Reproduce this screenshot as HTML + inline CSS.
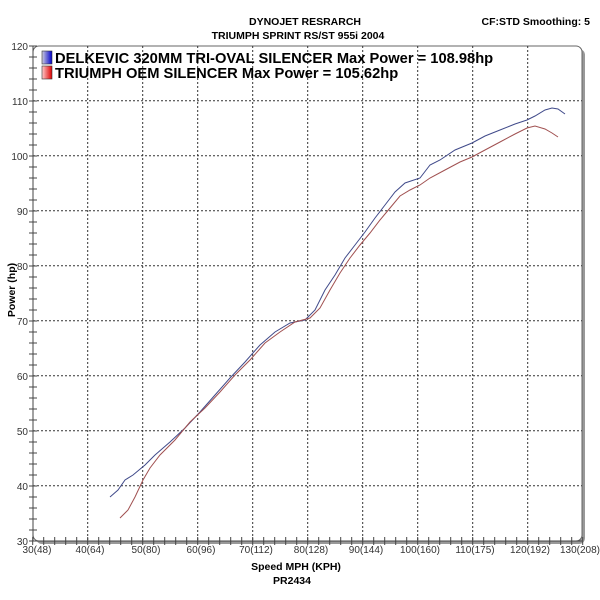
<!DOCTYPE html>
<html><head><style>
body{margin:0;background:#fff;width:600px;height:600px;overflow:hidden}
svg{display:block}
text{font-family:"Liberation Sans",Arial,sans-serif}
</style></head><body>
<svg width="600" height="600" viewBox="0 0 600 600">
<text x="305" y="25" font-size="10.5" font-weight="bold" text-anchor="middle">DYNOJET RESRARCH</text>
<text x="298" y="39" font-size="10.5" font-weight="bold" text-anchor="middle">TRIUMPH SPRINT RS/ST 955i 2004</text>
<text x="590" y="25" font-size="10.5" font-weight="bold" text-anchor="end">CF:STD Smoothing: 5</text>
<rect x="36" y="49" width="549" height="495" rx="6" fill="#999"/>
<rect x="33" y="46" width="549" height="495" rx="6" fill="#fff" stroke="#666" stroke-width="1"/>
<g stroke="#333" stroke-width="1" stroke-dasharray="2,2">
<line x1="33" y1="100.7" x2="582" y2="100.7"/><line x1="33" y1="155.7" x2="582" y2="155.7"/>
<line x1="33" y1="210.7" x2="582" y2="210.7"/><line x1="33" y1="265.7" x2="582" y2="265.7"/>
<line x1="33" y1="320.7" x2="582" y2="320.7"/><line x1="33" y1="375.7" x2="582" y2="375.7"/>
<line x1="33" y1="430.7" x2="582" y2="430.7"/><line x1="33" y1="485.7" x2="582" y2="485.7"/>
<line x1="87.7" y1="46" x2="87.7" y2="541"/><line x1="142.7" y1="46" x2="142.7" y2="541"/>
<line x1="197.7" y1="46" x2="197.7" y2="541"/><line x1="252.7" y1="46" x2="252.7" y2="541"/>
<line x1="307.7" y1="46" x2="307.7" y2="541"/><line x1="362.7" y1="46" x2="362.7" y2="541"/>
<line x1="417.7" y1="46" x2="417.7" y2="541"/><line x1="472.7" y1="46" x2="472.7" y2="541"/>
<line x1="527.7" y1="46" x2="527.7" y2="541"/>
</g>
<g stroke="#444" stroke-width="1">
<line x1="33" y1="46" x2="33" y2="541"/><line x1="33" y1="541" x2="582" y2="541"/>
</g>
<g id="ticks" stroke="#444"></g>
<g font-size="10" fill="#333" text-anchor="end">
<text x="28" y="50">120</text><text x="28" y="105">110</text><text x="28" y="160">100</text>
<text x="28" y="215">90</text><text x="28" y="270">80</text><text x="28" y="325">70</text>
<text x="28" y="380">60</text><text x="28" y="435">50</text><text x="28" y="490">40</text><text x="28" y="545">30</text>
</g>
<g font-size="10" fill="#333" text-anchor="middle">
<text x="37" y="553">30(48)</text><text x="90" y="553">40(64)</text><text x="146" y="553">50(80)</text>
<text x="201" y="553">60(96)</text><text x="256" y="553">70(112)</text><text x="311" y="553">80(128)</text>
<text x="366" y="553">90(144)</text><text x="420" y="553">100(160)</text><text x="475" y="553">110(175)</text>
<text x="530" y="553">120(192)</text><text x="580" y="553">130(208)</text>
</g>
<text x="296" y="570" font-size="10.5" font-weight="bold" text-anchor="middle">Speed MPH (KPH)</text>
<text x="292" y="584" font-size="10.5" font-weight="bold" text-anchor="middle">PR2434</text>
<text x="15" y="290" font-size="10.5" font-weight="bold" text-anchor="middle" transform="rotate(-90 15 290)">Power (hp)</text>
<defs>
<linearGradient id="gb" x1="0" x2="1"><stop offset="0" stop-color="#ccd"/><stop offset="1" stop-color="#00c"/></linearGradient>
<linearGradient id="gr" x1="0" x2="1"><stop offset="0" stop-color="#fcc"/><stop offset="1" stop-color="#d00"/></linearGradient>
</defs>
<rect x="42" y="51" width="10" height="13" fill="url(#gb)" stroke="#333" stroke-width="0.6"/>
<rect x="42" y="66" width="10" height="13" fill="url(#gr)" stroke="#333" stroke-width="0.6"/>
<text x="55" y="63" font-size="14.7" font-weight="bold">DELKEVIC 320MM TRI-OVAL SILENCER  Max Power = 108.98hp</text>
<text x="55" y="78" font-size="14.7" font-weight="bold">TRIUMPH OEM SILENCER Max Power = 105.62hp</text>
<polyline fill="none" stroke="#404a8a" stroke-width="1" points="110,497 118,490 125,480 133,475 145,465 155,455 170,442 185,428 200,412 215,395 230,378 245,362 260,345 275,332 290,323 305,320 315,310 325,290 335,275 345,258 355,245 365,232 375,218 385,205 395,192 405,183 420,178 430,165 440,160 455,150 472,143 485,136 500,130 515,124 527,120 535,116 545,110 552,108 558,109 565,114"/>
<polyline fill="none" stroke="#a05050" stroke-width="1" points="120,518 128,510 135,497 143,480 150,468 160,455 175,440 190,422 205,408 220,392 235,375 250,360 265,343 280,332 295,322 310,318 320,308 330,290 340,273 350,258 360,245 370,233 380,220 390,208 400,196 410,190 420,185 430,178 445,170 460,162 472,157 485,150 500,142 515,134 527,128 535,126 545,129 552,133 558,137"/>
</svg>
<script>
var g=document.getElementById('ticks'),s='';
for(var i=0;i<=45;i++){var y=541-i*11;s+='<line x1="29" y1="'+y+'" x2="37" y2="'+y+'"/>';}
for(var j=0;j<=50;j++){var x=32.7+j*11;s+='<line x1="'+x+'" y1="537" x2="'+x+'" y2="545"/>';}
g.innerHTML=s;
</script>
</body></html>
